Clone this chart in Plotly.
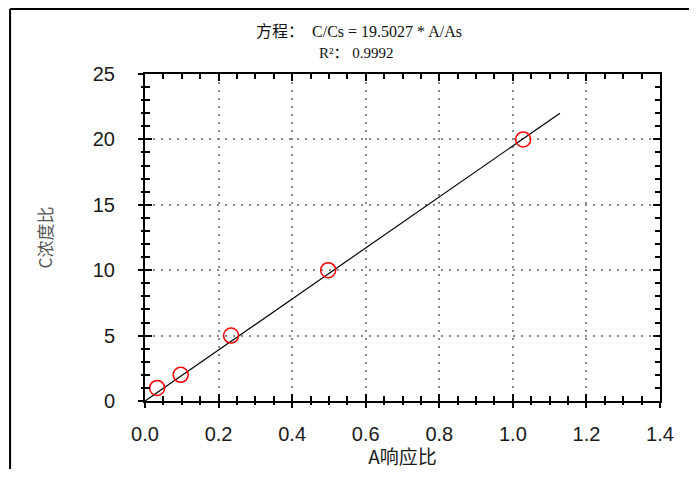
import plotly.graph_objects as go

# ---- data ----
A_ratio = [0.033, 0.097, 0.234, 0.498, 1.028]   # A响应比
C_ratio = [1, 2, 5, 10, 20]                      # C浓度比
slope = 19.5027
r_squared = 0.9992
fit_x = [0.0, 1.128]
fit_y = [slope * v for v in fit_x]
x_tick_vals = [0.0, 0.2, 0.4, 0.6, 0.8, 1.0, 1.2, 1.4]
x_tick_text = ["0.0", "0.2", "0.4", "0.6", "0.8", "1.0", "1.2", "1.4"]
y_tick_vals = [0, 5, 10, 15, 20, 25]
y_tick_text = ["0", "5", "10", "15", "20", "25"]

X_RANGE = [0, 1.4]
Y_RANGE = [0, 25]

fig = go.Figure()

fig.add_trace(go.Scatter(
    x=fit_x, y=fit_y, mode="lines",
    line=dict(color="black", width=1.2),
    hoverinfo="skip", showlegend=False))

fig.add_trace(go.Scatter(
    x=A_ratio, y=C_ratio, mode="markers",
    marker=dict(symbol="circle-open", size=15, color="red",
                line=dict(color="red", width=1.5)),
    showlegend=False))

# invisible trace to hold the overlay axes (outer tick halves)
fig.add_trace(go.Scatter(
    x=[X_RANGE[0]], y=[Y_RANGE[0]], xaxis="x2", yaxis="y2",
    mode="markers", marker=dict(opacity=0), hoverinfo="skip",
    showlegend=False))

tick_font = dict(family="Liberation Sans, Arial, sans-serif", size=20, color="#1a1a1a")
grid_dash = "2px,6px"

fig.update_layout(
    width=681, height=461,
    margin=dict(l=137, r=29, t=66, b=68, autoexpand=False),
    paper_bgcolor="white", plot_bgcolor="white",
    xaxis=dict(
        range=X_RANGE, tickmode="array", tickvals=x_tick_vals, ticktext=x_tick_text,
        ticks="inside", ticklen=7, tickwidth=1.5, tickcolor="black",
        showline=True, linecolor="black", linewidth=2, mirror="ticks",
        showgrid=True, gridcolor="#8a8a8a", griddash=grid_dash, gridwidth=1.5,
        zeroline=False, tickfont=tick_font, ticklabelstandoff=14, automargin=False,
        minor=dict(ticks="inside", ticklen=5, tickwidth=1.5, tickcolor="black",
                   dtick=0.05, showgrid=False),
        title=dict(text="A响应比", standoff=10,
                   font=dict(family="Noto Sans CJK SC, sans-serif", size=19, color="#1a1a1a")),
    ),
    yaxis=dict(
        range=Y_RANGE, tickmode="array", tickvals=y_tick_vals, ticktext=y_tick_text,
        ticks="inside", ticklen=7, tickwidth=1.5, tickcolor="black",
        showline=True, linecolor="black", linewidth=2, mirror="ticks",
        showgrid=True, gridcolor="#8a8a8a", griddash=grid_dash, gridwidth=1.5,
        zeroline=False, tickfont=tick_font, ticklabelstandoff=24, automargin=False,
        minor=dict(ticks="inside", ticklen=5, tickwidth=1.5, tickcolor="black",
                   dtick=1, showgrid=False),
        title=dict(text="C浓度比", standoff=36,
                   font=dict(family="Noto Sans CJK SC, sans-serif", size=17, color="#555555")),
    ),
    xaxis2=dict(
        range=X_RANGE, overlaying="x", side="bottom", anchor="y2",
        tickmode="array", tickvals=x_tick_vals, showticklabels=False,
        ticks="outside", ticklen=6, tickwidth=1.5, tickcolor="black",
        showline=False, showgrid=False, zeroline=False, automargin=False,
        minor=dict(ticks="outside", ticklen=3, tickwidth=1.5, tickcolor="black",
                   dtick=0.05, showgrid=False),
    ),
    yaxis2=dict(
        range=Y_RANGE, overlaying="y", side="left", anchor="x2",
        tickmode="array", tickvals=y_tick_vals, showticklabels=False,
        ticks="outside", ticklen=6, tickwidth=1.5, tickcolor="black",
        showline=False, showgrid=False, zeroline=False, automargin=False,
        minor=dict(ticks="outside", ticklen=3, tickwidth=1.5, tickcolor="black",
                   dtick=1, showgrid=False),
    ),
)

serif = "Liberation Serif, Times New Roman, serif"
cjk = "Noto Sans CJK SC, sans-serif"
line1 = (f'<span style="font-family:{cjk}">方程：</span>'
         f'\u00a0\u00a0<span style="font-family:{serif}">C/Cs = {slope} * A/As</span>')
line2 = (f'<span style="font-family:{serif}">R²</span>'
         f'<span style="font-family:{cjk}">：</span>'
         f'\u00a0<span style="font-family:{serif}">{r_squared}</span>')

fig.add_annotation(text=line1, xref="paper", yref="paper", x=0.4155, y=1.134,
                   showarrow=False, xanchor="center", yanchor="middle",
                   font=dict(size=16, color="#111111", family=serif))
fig.add_annotation(text=line2, xref="paper", yref="paper", x=0.411, y=1.068,
                   showarrow=False, xanchor="center", yanchor="middle",
                   font=dict(size=15, color="#111111", family=serif))

# outer window frame (left and top edges)
fig.add_shape(type="line", xref="paper", yref="paper",
              x0=-0.262, x1=-0.262, y0=-0.32, y1=1.199,
              line=dict(color="black", width=2))
fig.add_shape(type="line", xref="paper", yref="paper",
              x0=-0.262, x1=1.08, y0=1.199, y1=1.199,
              line=dict(color="black", width=2))

fig.write_html("out.html")
